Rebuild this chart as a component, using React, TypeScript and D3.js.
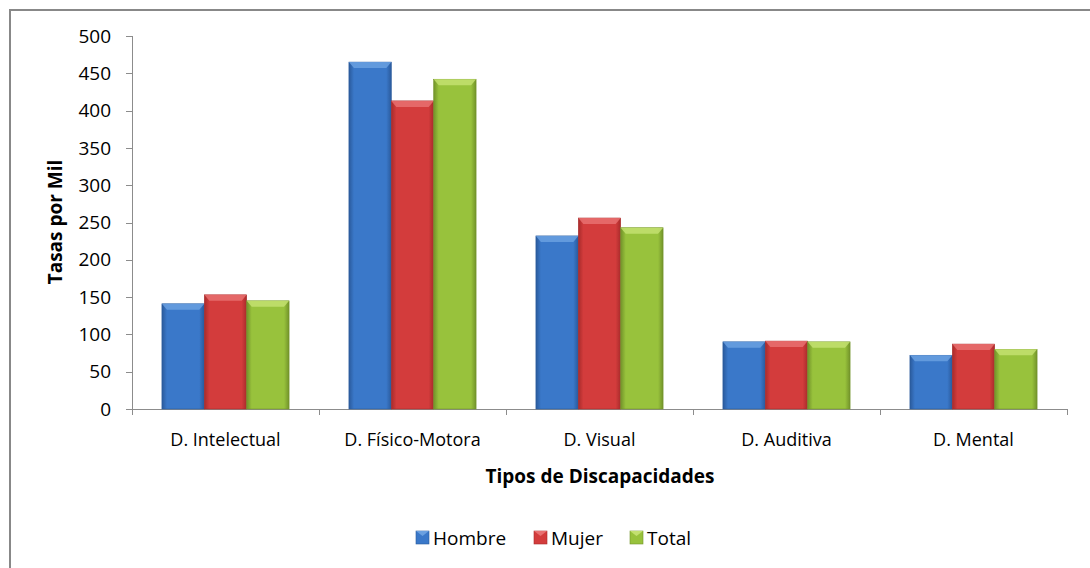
import React from "react";
import * as d3 from "d3";

const categories = ["D. Intelectual", "D. Físico-Motora", "D. Visual", "D. Auditiva", "D. Mental"];
const seriesNames = ["Hombre", "Mujer", "Total"];
const hombre = [141, 465, 232, 90, 72];
const mujer = [153, 413, 256, 91, 87];
const total = [145, 442, 243, 90, 80];
const yTicks = [0, 50, 100, 150, 200, 250, 300, 350, 400, 450, 500];

const colors = [
  { main: "#3a78c9", light: "#6aa0e0", dark: "#2a5a9c" },
  { main: "#d33c3c", light: "#e87070", dark: "#a82b2b" },
  { main: "#98c23c", light: "#c3e070", dark: "#72932a" },
];

export default function App() {
  const W = 1090, H = 568;
  const left = 132, right = 1067, top = 36, bottom = 409;
  const x = d3.scaleBand().domain(categories).range([left, right]).paddingInner(0.32).paddingOuter(0.16);
  const y = d3.scaleLinear().domain([0, 500]).range([bottom, top]);
  const xs = d3.scaleBand().domain(seriesNames).range([0, x.bandwidth()]);
  const data = [hombre, mujer, total];
  const font = "'Open Sans', 'Liberation Sans', sans-serif";
  const step = (right - left) / categories.length;

  return (
    <svg width={W} height={H} style={{ position: "absolute", left: 0, top: 0 }} fontFamily={font}>
      <defs>
        {colors.map((c, i) => (
          <linearGradient key={i} id={`g${i}`} x1="0" x2="1" y1="0" y2="0">
            <stop offset="0" stopColor={c.dark} />
            <stop offset="0.12" stopColor={c.main} />
            <stop offset="0.88" stopColor={c.main} />
            <stop offset="1" stopColor={c.dark} />
          </linearGradient>
        ))}
      </defs>
      <rect x={10} y={10} width={1100} height={580} fill="#fff" stroke="#888888" strokeWidth={2} />
      {/* y axis */}
      <line x1={left + 0.5} x2={left + 0.5} y1={top} y2={bottom} stroke="#8c8c8c" />
      {yTicks.map((t) => (
        <g key={t}>
          <line x1={left - 6} x2={left} y1={Math.round(y(t)) + 0.5} y2={Math.round(y(t)) + 0.5} stroke="#8c8c8c" />
          <text x={left - 21} y={y(t)} dy="0.35em" textAnchor="end" fontSize={19} fill="#000">{t}</text>
        </g>
      ))}
      {/* x axis */}
      <line x1={left} x2={right} y1={bottom + 0.5} y2={bottom + 0.5} stroke="#8c8c8c" />
      {d3.range(categories.length + 1).map((i) => (
        <line key={i} x1={Math.round(left + i * step) + 0.5} x2={Math.round(left + i * step) + 0.5} y1={bottom} y2={bottom + 6} stroke="#8c8c8c" />
      ))}
      {categories.map((c) => (
        <text key={c} x={(x(c) as number) + x.bandwidth() / 2} y={446} textAnchor="middle" fontSize={18} fill="#000">{c}</text>
      ))}
      {/* bars */}
      {categories.map((c, ci) =>
        seriesNames.map((s, si) => {
          const bx = (x(c) as number) + (xs(s) as number);
          const bw = xs.bandwidth();
          const by = y(data[si][ci]);
          const bh = bottom - by;
          const col = colors[si];
          return (
            <g key={c + s}>
              <rect x={bx} y={by} width={bw} height={bh} fill={`url(#g${si})`} stroke={col.dark} strokeWidth={0.6} />
              <polygon points={`${bx},${by} ${bx + bw},${by} ${bx + bw - 5},${by + 6} ${bx + 5},${by + 6}`} fill={col.light} opacity={0.85} />
            </g>
          );
        })
      )}
      {/* axis titles */}
      <text x={600} y={483} textAnchor="middle" fontSize={19} fontWeight="bold" fill="#000">Tipos de Discapacidades</text>
      <text transform={`translate(62,222) rotate(-90)`} textAnchor="middle" fontSize={19} fontWeight="bold" fill="#000">Tasas por Mil</text>
      {/* legend */}
      {(() => {
        const items = [
          { name: "Hombre", x: 416 },
          { name: "Mujer", x: 534 },
          { name: "Total", x: 630 },
        ];
        return items.map((it, i) => (
          <g key={it.name}>
            <rect x={it.x} y={531} width={13} height={13} fill={colors[i].main} stroke={colors[i].dark} strokeWidth={0.6} />
            <polygon points={`${it.x},531 ${it.x + 13},531 ${it.x + 6.5},536`} fill={colors[i].light} />
            <text x={it.x + 17} y={538} dy="0.35em" fontSize={19} fill="#000">{it.name}</text>
          </g>
        ));
      })()}
    </svg>
  );
}
